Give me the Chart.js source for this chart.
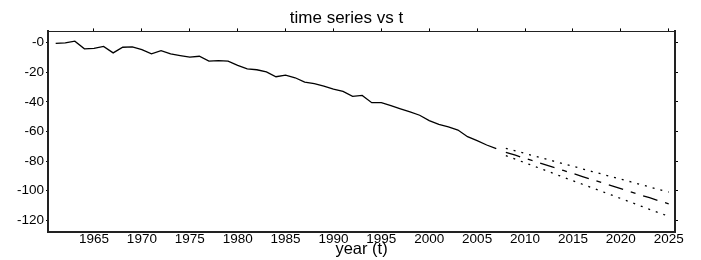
<!DOCTYPE html>
<html>
<head>
<meta charset="utf-8">
<script src="https://cdn.jsdelivr.net/npm/chart.js@4/dist/chart.umd.min.js"></script>
<style>
html,body{margin:0;padding:0;background:#fff;}
#wrap{width:701px;height:260px;position:relative;}
</style>
</head>
<body>
<div id="wrap"><canvas id="c" width="701" height="260"></canvas></div>
<script>
// ---- data ----
const obsYears = [1961,1962,1963,1964,1965,1966,1967,1968,1969,1970,1971,1972,1973,1974,1975,1976,1977,1978,1979,1980,1981,1982,1983,1984,1985,1986,1987,1988,1989,1990,1991,1992,1993,1994,1995,1996,1997,1998,1999,2000,2001,2002,2003,2004,2005,2006,2007];
const obsValues = [-0.5,-0.2,1.0,-4.2,-3.8,-2.5,-6.9,-3.1,-2.9,-4.7,-7.6,-5.4,-7.6,-8.7,-9.8,-9.2,-12.5,-12.1,-12.5,-15.4,-17.7,-18.3,-19.7,-23.0,-21.9,-23.7,-26.6,-27.7,-29.3,-31.3,-32.9,-36.2,-35.6,-40.5,-40.5,-42.5,-44.7,-46.8,-49.0,-52.6,-55.2,-56.8,-59.0,-63.5,-66.2,-69.1,-71.6];
const fcYears = [2008,2009,2010,2011,2012,2013,2014,2015,2016,2017,2018,2019,2020,2021,2022,2023,2024,2025];
const fcMean  = [-74.0,-76.0,-78.1,-80.1,-82.2,-84.2,-86.3,-88.3,-90.4,-92.4,-94.5,-96.5,-98.6,-100.6,-102.7,-104.7,-106.8,-108.8];
const fcUpper = [-71.3,-73.0,-74.8,-76.5,-78.3,-80.0,-81.7,-83.5,-85.2,-87.0,-88.7,-90.4,-92.2,-93.9,-95.7,-97.4,-99.2,-100.9];
const fcLower = [-76.3,-78.7,-81.1,-83.5,-85.9,-88.4,-90.8,-93.2,-95.6,-98.0,-100.4,-102.8,-105.2,-107.6,-110.1,-112.5,-114.9,-117.2];
const xTickValues = [1965,1970,1975,1980,1985,1990,1995,2000,2005,2010,2015,2020,2025];
const yTickValues = [0,-20,-40,-60,-80,-100,-120];
const yTickLabels = ['-0','-20','-40','-60','-80','-100','-120'];

const pts = (xs, ys) => xs.map((x, i) => ({x: x, y: ys[i]}));
const FONT = "'Liberation Sans', Arial, sans-serif";
const X_MIN = 1960.2, X_MAX = 2025.66, Y_MIN = -128, Y_MAX = 7.6;

const setXTicks = s => { s.ticks = xTickValues.map(v => ({value: v})); };
const setYTicks = s => { s.ticks = yTickValues.map(v => ({value: v})); };

const base = {borderColor:'#000', pointRadius:0, tension:0, fill:false, borderWidth:1.3};

new Chart(document.getElementById('c'), {
  type: 'line',
  data: {
    datasets: [
      Object.assign({label:'observed', data: pts(obsYears, obsValues)}, base),
      Object.assign({label:'forecast', data: pts(fcYears, fcMean), borderDash:[15,8,5,8]}, base),
      Object.assign({label:'upper', data: pts(fcYears, fcUpper), borderDash:[2,6], borderWidth:1.6}, base),
      Object.assign({label:'lower', data: pts(fcYears, fcLower), borderDash:[2,6], borderWidth:1.6}, base)
    ]
  },
  options: {
    responsive: false,
    animation: false,
    devicePixelRatio: 1,
    layout: {padding: {left: 15, right: 23, top: 0, bottom: 2.75}},
    plugins: {
      legend: {display: false},
      tooltip: {enabled: false},
      title: {
        display: true, text: 'time series vs t', color: '#000',
        font: {family: FONT, size: 17, weight: 'normal', lineHeight: 1.2},
        padding: {top: 8, bottom: 0}
      }
    },
    scales: {
      x: {
        type: 'linear', position: 'bottom', min: X_MIN, max: X_MAX,
        afterBuildTicks: setXTicks,
        grid: {display: true, drawOnChartArea: false, drawTicks: false},
        border: {display: true, color: '#222', width: 2},
        ticks: {color: '#000', padding: 0, maxRotation: 0, autoSkip: false,
          font: {family: FONT, size: 13.5, lineHeight: 1},
          callback: v => String(v)},
        title: {display: true, text: 'year (t)', color: '#000',
          font: {family: FONT, size: 16.5, lineHeight: 1},
          padding: {top: -5, bottom: 0}}
      },
      x2: {
        type: 'linear', position: 'top', min: X_MIN, max: X_MAX,
        afterBuildTicks: setXTicks,
        grid: {display: true, drawOnChartArea: false, drawTicks: true, tickLength: 3, color: '#000', tickColor: '#000'},
        border: {display: true, color: '#222', width: 1},
        ticks: {display: false}
      },
      y: {
        type: 'linear', position: 'left', min: Y_MIN, max: Y_MAX,
        afterBuildTicks: setYTicks,
        grid: {display: true, drawOnChartArea: false, drawTicks: true, tickLength: 2, color: '#000', tickColor: '#000'},
        border: {display: true, color: '#222', width: 2},
        ticks: {color: '#000', padding: 2,
          font: {family: FONT, size: 13.5, lineHeight: 1},
          callback: (v, i) => yTickLabels[i]}
      },
      y2: {
        type: 'linear', position: 'right', min: Y_MIN, max: Y_MAX,
        afterBuildTicks: setYTicks,
        grid: {display: true, drawOnChartArea: false, drawTicks: true, tickLength: 3, color: '#000', tickColor: '#000'},
        border: {display: true, color: '#222', width: 2},
        ticks: {display: false}
      }
    }
  }
});
</script>
</body>
</html>
